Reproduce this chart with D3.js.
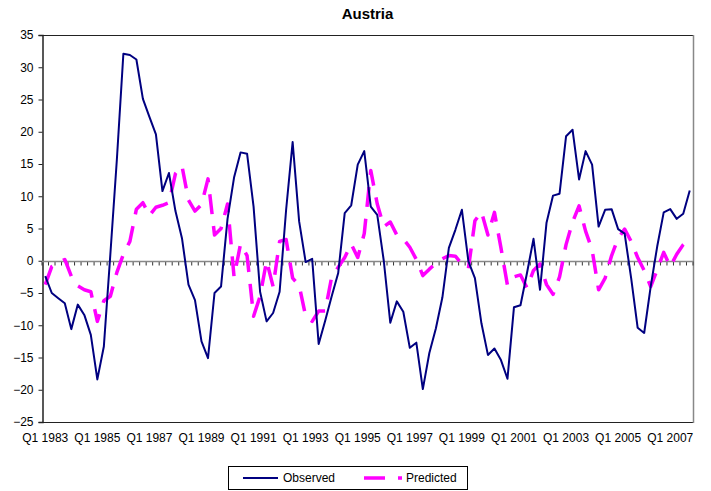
<!DOCTYPE html>
<html>
<head>
<meta charset="utf-8">
<script src="https://cdn.jsdelivr.net/npm/d3@7/dist/d3.min.js"></script>
<style>
  html, body { margin: 0; padding: 0; background: #fff; }
  svg { display: block; font-family: "Liberation Sans", Arial, sans-serif; }
</style>
</head>
<body>
<div id="chart"></div>
<script>
// ---- data ----
const title = "Austria";
const years = d3.range(1983, 2008);
const quarters = ["Q1", "Q2", "Q3", "Q4"];
const categories = years.flatMap(y => quarters.map(q => q + " " + y));
const yTicks = [-25, -20, -15, -10, -5, 0, 5, 10, 15, 20, 25, 30, 35];
const xTickLabels = ["Q1 1983","Q1 1985","Q1 1987","Q1 1989","Q1 1991","Q1 1993","Q1 1995","Q1 1997","Q1 1999","Q1 2001","Q1 2003","Q1 2005","Q1 2007"];

const observed = [
  -2.4, -5.0, -5.8, -6.6, -10.6, -6.8, -8.4, -11.5, -18.4, -13.3,
  1.0, 15.7, 32.1, 31.9, 31.2, 25.1, 22.3, 19.6, 10.8, 13.6,
  7.7, 3.5, -3.7, -6.1, -12.5, -15.1, -5.0, -4.0, 6.5, 12.9,
  16.8, 16.6, 8.4, -4.8, -9.4, -8.1, -4.8, 7.9, 18.4, 6.1,
  -0.2, 0.3, -12.9, -9.3, -5.5, -1.9, 7.4, 8.6, 14.9, 17.0,
  8.4, 7.1, 0.0, -9.6, -6.3, -7.9, -13.5, -12.7, -19.9, -14.3,
  -10.5, -5.7, 2.0, 4.8, 7.9, -0.1, -2.7, -9.7, -14.6, -13.6,
  -15.4, -18.3, -7.2, -6.9, -1.9, 3.4, -4.5, 5.9, 10.1, 10.4,
  19.3, 20.3, 12.6, 17.0, 14.9, 5.3, 7.9, 8.0, 4.9, 4.2,
  -2.7, -10.4, -11.2, -4.0, 2.2, 7.5, 8.0, 6.5, 7.3, 10.9
];
const predicted = [
  -3.7, -0.9, -0.3, 0.2, -2.4, -3.9, -4.5, -4.8, -9.4, -6.2,
  -5.5, -1.8, 1.0, 3.0, 8.0, 9.0, 7.0, 8.3, 8.6, 9.0,
  13.5, 14.7, 9.4, 7.7, 8.7, 12.7, 4.0, 5.0, 8.8, -2.5,
  2.6, 0.8, -8.6, -5.5, 0.0, -4.0, 3.0, 3.3, -2.7, -3.8,
  -8.6, -9.4, -7.8, -7.8, -2.5, -1.0, 0.5, 2.6, 0.5, 4.2,
  14.0, 8.8, 5.3, 6.0, 4.0, 3.4, 2.1, 0.2, -2.3, -1.3,
  -0.4, 0.3, 0.8, 0.7, -0.5, -1.2, 6.2, 7.6, 4.0, 7.5,
  2.0, -3.8, -2.5, -2.2, -4.2, -1.5, -0.5, -3.7, -5.2, -2.5,
  2.5, 6.0, 8.5, 4.6, 1.7, -4.5, -2.7, 0.8, 3.5, 4.9,
  3.0, 0.5, -1.5, -4.0, -1.4, 1.3, -0.9, 1.0, 2.5, 3.5
];
const seriesNames = ["Observed", "Predicted"];

// ---- layout ----
const W = 711, H = 491;
const plot = { left: 42, right: 693, top: 35, bottom: 422 };

const svg = d3.select("#chart").append("svg")
  .attr("width", W).attr("height", H);

const x = d3.scaleBand().domain(categories).range([plot.left, plot.right]).padding(0);
const y = d3.scaleLinear().domain([-25, 35]).range([plot.bottom, plot.top]);
const cx = c => x(c) + x.bandwidth() / 2;

// title
svg.append("text")
  .attr("x", (plot.left + plot.right) / 2).attr("y", 19)
  .attr("text-anchor", "middle")
  .attr("font-size", 15).attr("font-weight", "bold")
  .text(title);

// plot frame
svg.append("line").attr("x1", plot.left).attr("x2", plot.right)
  .attr("y1", plot.top + 0.5).attr("y2", plot.top + 0.5).attr("stroke", "#222");
svg.append("line").attr("x1", plot.left).attr("x2", plot.right)
  .attr("y1", plot.bottom + 0.5).attr("y2", plot.bottom + 0.5).attr("stroke", "#222");
svg.append("line").attr("x1", plot.right + 0.5).attr("x2", plot.right + 0.5)
  .attr("y1", plot.top).attr("y2", plot.bottom + 1).attr("stroke", "#888").attr("stroke-width", 1.5);

// y axis
const yAxis = d3.axisLeft(y).tickValues(yTicks).tickSize(4).tickPadding(5).tickFormat(d3.format("d"));
const gy = svg.append("g").attr("transform", `translate(${plot.left + 0.5},0)`).call(yAxis);
gy.select(".domain").attr("stroke", "#222").attr("stroke-width", 1.5);
gy.selectAll(".tick line").attr("stroke", "#222");
gy.selectAll(".tick text").attr("font-size", 12).attr("fill", "#000")
  .attr("font-family", "Liberation Sans, Arial, sans-serif");

// zero category axis line with ticks between categories
const zeroY = Math.round(y(0)) + 0.5;
const boundaries = categories.map(c => x(c)).concat([x(categories[categories.length - 1]) + x.bandwidth()]);
svg.append("g").selectAll("line").data(boundaries).join("line")
  .attr("x1", d => d).attr("x2", d => d)
  .attr("y1", zeroY).attr("y2", zeroY + 4)
  .attr("stroke", "#333").attr("stroke-width", 1);
svg.append("line").attr("x1", plot.left).attr("x2", plot.right)
  .attr("y1", zeroY).attr("y2", zeroY).attr("stroke", "#888").attr("stroke-width", 1.5);

// x labels at bottom
svg.append("g").selectAll("text").data(xTickLabels).join("text")
  .attr("x", d => cx(d)).attr("y", 442)
  .attr("text-anchor", "middle").attr("font-size", 12)
  .text(d => d);

// lines
const line = d3.line().x((d, i) => cx(categories[i])).y(d => y(d));
svg.append("path").datum(predicted)
  .attr("d", line).attr("fill", "none")
  .attr("stroke", "#FF00FF").attr("stroke-width", 3.5)
  .attr("stroke-dasharray", "20,12").attr("stroke-linejoin", "round");
svg.append("path").datum(observed)
  .attr("d", line).attr("fill", "none")
  .attr("stroke", "#000080").attr("stroke-width", 2).attr("stroke-linejoin", "round");

// legend
const lg = svg.append("g");
lg.append("rect").attr("x", 228.5).attr("y", 466.5).attr("width", 239).attr("height", 23)
  .attr("fill", "#fff").attr("stroke", "#000").attr("stroke-width", 1);
lg.append("line").attr("x1", 243).attr("x2", 278).attr("y1", 478).attr("y2", 478)
  .attr("stroke", "#000080").attr("stroke-width", 2);
lg.append("text").attr("x", 283).attr("y", 482).attr("font-size", 12).text(seriesNames[0]);
lg.append("line").attr("x1", 364).attr("x2", 402).attr("y1", 478).attr("y2", 478)
  .attr("stroke", "#FF00FF").attr("stroke-width", 3.5).attr("stroke-dasharray", "21,13");
lg.append("text").attr("x", 406).attr("y", 482).attr("font-size", 12).text(seriesNames[1]);
</script>
</body>
</html>
